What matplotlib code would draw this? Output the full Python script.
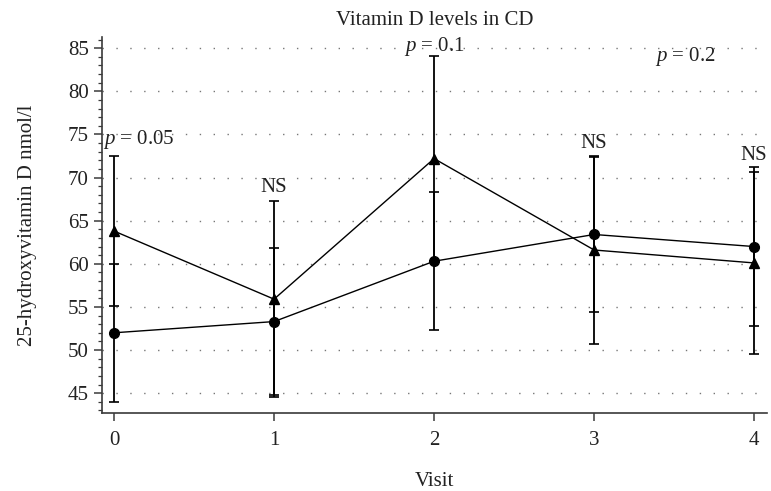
import matplotlib
matplotlib.use("Agg")
import matplotlib.pyplot as plt
from matplotlib.ticker import MultipleLocator

plt.rcParams['font.family'] = ['Liberation Serif', 'DejaVu Serif']
plt.rcParams['mathtext.fontset'] = 'custom'
plt.rcParams['mathtext.it'] = 'Liberation Serif:italic'
plt.rcParams['mathtext.rm'] = 'Liberation Serif'

visits = [0, 1, 2, 3, 4]
circle_mean = [52.0, 53.3, 60.3, 63.4, 62.0]
circle_err = [8.0, 8.5, 8.0, 9.0, 9.2]
triangle_mean = [63.8, 55.9, 72.2, 61.6, 60.1]
triangle_err = [8.7, 11.4, 11.9, 10.9, 10.6]

annotations = [
    (-0.07, 74.4, r"$p$ = 0.05", "left"),
    (1.0, 68.9, "NS", "center"),
    (2.0, 85.2, r"$p$ = 0.1", "center"),
    (3.57, 84.0, r"$p$ = 0.2", "center"),
    (3.0, 73.9, "NS", "center"),
    (4.0, 72.6, "NS", "center"),
]

FS = 15
text_color = "#222222"

fig = plt.figure(figsize=(7.71, 4.91), dpi=100)
ax = fig.add_axes([0.1323, 0.1589, 0.8625, 0.7657])

spine_color = "#3a3a3a"
ax.errorbar(visits, circle_mean, yerr=circle_err, color="black", marker="o",
            markersize=7, linewidth=1.0, elinewidth=1.3, capsize=3.5,
            capthick=1.2, zorder=3)
ax.errorbar(visits, triangle_mean, yerr=triangle_err, color="black", marker="^",
            markersize=7.5, linewidth=1.0, elinewidth=1.3, capsize=3.5,
            capthick=1.2, zorder=3)

for x, y, txt, ha in annotations:
    ax.text(x, y, txt, ha=ha, va="center", fontsize=FS, color=text_color, zorder=4)

ax.set_xlim(-0.075, 4.08)
ax.set_ylim(42.7, 86.3)
ax.set_xticks(visits)
ax.yaxis.set_major_locator(MultipleLocator(5))
ax.yaxis.set_minor_locator(MultipleLocator(1))
ax.set_yticks(range(45, 90, 5))

ax.grid(axis="y", which="major", linestyle=(0, (1, 9)), color="#777777",
        linewidth=1.0)
ax.set_axisbelow(True)

for side in ("top", "right"):
    ax.spines[side].set_visible(False)
for side in ("left", "bottom"):
    ax.spines[side].set_color(spine_color)
    ax.spines[side].set_linewidth(1.2)

ax.tick_params(axis="both", which="major", length=6, width=1.1,
               color=spine_color, labelsize=FS, labelcolor=text_color)
ax.tick_params(axis="y", which="minor", length=3, width=0.9, color=spine_color)
ax.tick_params(axis="x", pad=7)

ax.set_title("Vitamin D levels in CD", fontsize=FS, color=text_color, pad=9)
ax.set_xlabel("Visit", fontsize=FS, color=text_color, labelpad=16)
ax.set_ylabel("25-hydroxyvitamin D nmol/l", fontsize=FS, color=text_color,
              labelpad=22)

fig.savefig("out.png", dpi=100)
